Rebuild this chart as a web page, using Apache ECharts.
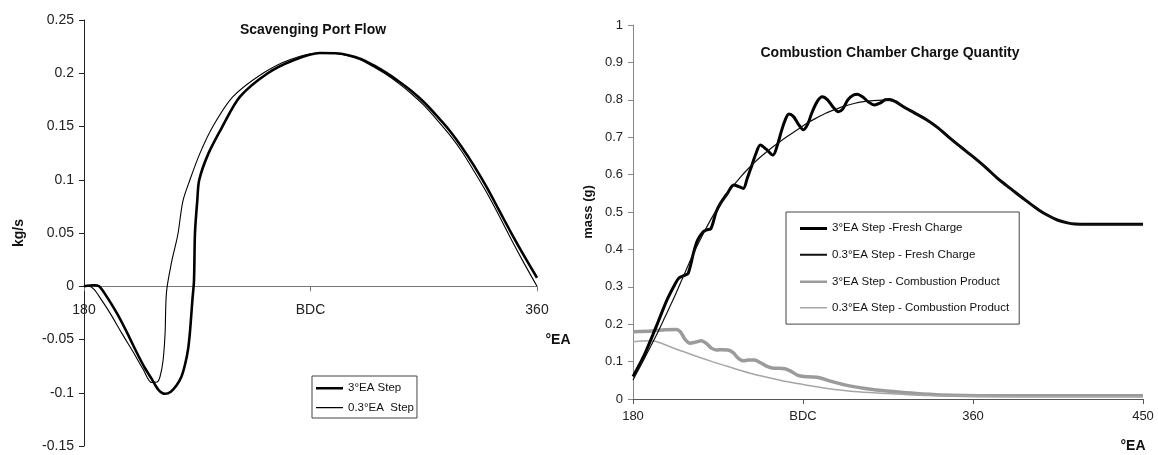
<!DOCTYPE html>
<html>
<head>
<meta charset="utf-8">
<script src="https://cdn.jsdelivr.net/npm/echarts@6/dist/echarts.min.js"></script>
<style>html,body{margin:0;padding:0;background:#fff}#c{width:1158px;height:455px}</style>
</head>
<body>
<div id="c"></div>
<script>
// ---------- Left chart: Scavenging Port Flow (x: °EA, y: kg/s) ----------
const leftXTicks = {180: '180', 270: 'BDC', 360: '360'};
const flow3 = [[180,0],[184,0.001],[186,0],[188,-0.006],[193,-0.025],[197,-0.043],[200.9,-0.062],[204,-0.076],[206.9,-0.087],[209.5,-0.097],[212.2,-0.101],[214.5,-0.099],[216.8,-0.093],[218.7,-0.085],[220.1,-0.074],[221.3,-0.06],[222.1,-0.043],[223.1,-0.012],[223.7,0.005],[224.1,0.05],[225,0.08],[225.8,0.1],[229.5,0.125],[235,0.15],[242,0.178],[253,0.2],[263,0.212],[273.7,0.219],[280,0.2188],[285,0.217],[290,0.2135],[295,0.2075],[300,0.2005],[305,0.1925],[310,0.1835],[315,0.173],[320,0.1605],[325,0.147],[330,0.131],[335,0.113],[340,0.093],[345,0.071],[350,0.049],[355,0.028],[360,0.008]];
const flow03 = [[180,0],[182,0],[184,-0.003],[187,-0.013],[190.3,-0.025],[195,-0.044],[199.6,-0.062],[203.5,-0.078],[206.9,-0.0904],[209,-0.09],[210.2,-0.085],[211.4,-0.07],[212.2,-0.045],[212.8,-0.005],[215,0.025],[216.5,0.04],[217.4,0.05],[219.3,0.08],[222.1,0.1],[226.1,0.125],[231.2,0.15],[239.2,0.178],[251.1,0.2],[262,0.213],[273.7,0.219],[280,0.2185],[285,0.2165],[290,0.2125],[295,0.206],[300,0.199],[305,0.1905],[310,0.181],[315,0.17],[320,0.157],[325,0.143],[330,0.127],[335,0.108],[340,0.088],[345,0.066],[350,0.043],[355,0.021],[360,0]];

// ---------- Right chart: Combustion Chamber Charge Quantity (x: °EA, y: mass g) ----------
const rightXTicks = {180: '180', 270: 'BDC', 360: '360', 450: '450'};
const fresh3 = [[180,0.06],[186,0.118],[192,0.19],[198,0.265],[202,0.305],[204.2,0.323],[207,0.33],[209.2,0.336],[212,0.39],[214.2,0.425],[217.2,0.447],[219,0.452],[221.3,0.456],[224,0.5],[226.3,0.523],[230,0.55],[233.3,0.572],[236,0.568],[238.4,0.563],[240.5,0.59],[242.4,0.617],[245,0.655],[247.4,0.679],[250.5,0.668],[254.1,0.652],[256.5,0.68],[258.5,0.715],[260.5,0.745],[262.5,0.762],[265,0.755],[267.5,0.735],[270.2,0.72],[272.5,0.735],[274.6,0.764],[277.5,0.795],[280.2,0.808],[283,0.8],[286,0.78],[288.7,0.768],[291,0.775],[293.7,0.8],[296.5,0.812],[298.8,0.815],[301.5,0.808],[304.5,0.795],[307.8,0.786],[311,0.792],[313.5,0.8],[315.9,0.801],[319,0.795],[322.9,0.782],[329,0.765],[335,0.748],[341,0.727],[347,0.701],[353,0.676],[360,0.648],[367,0.618],[373,0.59],[378,0.57],[383,0.55],[389,0.527],[395,0.505],[400,0.49],[405,0.478],[410,0.471],[414,0.468],[420,0.467],[450,0.467]];
const fresh03 = [[180,0.051],[186,0.108],[192,0.167],[197,0.22],[202,0.274],[207,0.332],[212,0.389],[217,0.44],[222,0.487],[227,0.527],[232,0.563],[237,0.594],[242,0.621],[247,0.645],[252,0.666],[257,0.685],[262,0.703],[267,0.72],[272,0.737],[277,0.751],[282,0.764],[287,0.774],[292,0.783],[297,0.79],[302,0.795],[307,0.798],[312,0.799],[317,0.797],[322,0.787],[329,0.766],[335,0.748],[341,0.727],[347,0.701],[353,0.676],[360,0.648],[367,0.618],[373,0.59],[378,0.57],[383,0.55],[389,0.527],[395,0.505],[400,0.49],[405,0.478],[410,0.471],[414,0.468],[420,0.467],[450,0.467]];
const comb3 = [[180,0.18],[190,0.182],[197,0.185],[203,0.186],[205,0.18],[207.5,0.16],[210.2,0.149],[213,0.152],[216.2,0.156],[219,0.148],[221.5,0.136],[224.3,0.131],[227,0.132],[230.3,0.131],[233,0.124],[235.5,0.11],[238.4,0.102],[241,0.104],[244.4,0.104],[247.5,0.097],[251,0.087],[254.5,0.082],[257.5,0.082],[260.5,0.081],[264,0.073],[267,0.064],[270.6,0.06],[274.5,0.059],[278.6,0.057],[285,0.047],[292.7,0.037],[302,0.029],[312.9,0.022],[327,0.016],[343,0.011],[370,0.009],[400,0.009],[450,0.009]];
const comb03 = [[180,0.153],[185,0.155],[190,0.156],[196,0.147],[202,0.135],[212,0.117],[222,0.1],[232,0.084],[242,0.069],[252,0.057],[262,0.046],[272,0.037],[282,0.029],[297,0.02],[313,0.015],[328,0.011],[343,0.009],[370,0.007],[400,0.006],[450,0.006]];

const leftNames = ['3°EA Step', '0.3°EA  Step'];
const rightNames = ['3°EA Step -Fresh Charge', '0.3°EA Step - Fresh Charge', '3°EA Step - Combustion Product', '0.3°EA Step - Combustion Product'];

const FONT = '"Liberation Sans", Arial, sans-serif';
const chart = echarts.init(document.getElementById('c'), null, {renderer: 'canvas'});

function line(name, data, xi, color, width, z) {
  return {name, type: 'line', xAxisIndex: xi, yAxisIndex: xi, data, showSymbol: false, symbol: 'none',
    smooth: 0.3, lineStyle: {color, width}, itemStyle: {color}, z: z || 2, animation: false};
}
// legend line icon of a given stroke thickness (box 27 x 12)
function lineIcon(t) {
  const y0 = Math.round(6 - t / 2);
  return 'path://M0,0h0.05v0.05h-0.05z M0,' + y0 + 'h27v' + t + 'h-27z M26.95,11.95h0.05v0.05h-0.05z';
}

chart.setOption({
  backgroundColor: '#fff',
  textStyle: {fontFamily: FONT},
  animation: false,
  title: [
    {text: 'Scavenging Port Flow', left: 308, top: 18, textAlign: 'center',
      textStyle: {fontFamily: FONT, fontSize: 14, fontWeight: 'bold', color: '#111'}},
    {text: 'Combustion Chamber Charge Quantity', left: 885, top: 41, textAlign: 'center',
      textStyle: {fontFamily: FONT, fontSize: 14, fontWeight: 'bold', color: '#111'}},
    {text: '°EA', left: 553, top: 328, textAlign: 'center',
      textStyle: {fontFamily: FONT, fontSize: 14, fontWeight: 'bold', color: '#111'}},
    {text: '°EA', left: 1128, top: 434, textAlign: 'center',
      textStyle: {fontFamily: FONT, fontSize: 14, fontWeight: 'bold', color: '#111'}}
  ],
  legend: [
    {data: [{name: leftNames[0], icon: lineIcon(2.5)}, {name: leftNames[1], icon: lineIcon(1.2)}],
      orient: 'vertical', left: 312, top: 376, padding: [6, 3, 4, 4], itemGap: 8,
      itemWidth: 27, itemHeight: 12, borderColor: '#444', borderWidth: 1, selectedMode: false,
      textStyle: {fontFamily: FONT, fontSize: 11.5, color: '#111'}},
    {data: [{name: rightNames[0], icon: lineIcon(3)}, {name: rightNames[1], icon: lineIcon(2)},
            {name: rightNames[2], icon: lineIcon(2.5)}, {name: rightNames[3], icon: lineIcon(1.5)}],
      orient: 'vertical', left: 786, top: 212, padding: [10, 10, 10, 14], itemGap: 14.7,
      itemWidth: 27, itemHeight: 12, borderColor: '#444', borderWidth: 1, selectedMode: false,
      textStyle: {fontFamily: FONT, fontSize: 11.5, color: '#111'}}
  ],
  grid: [
    {left: 84, right: 621, top: 20, bottom: 9, containLabel: false, outerBoundsMode: 'none'},
    {left: 633, right: 15, top: 25, bottom: 56, containLabel: false, outerBoundsMode: 'none'}
  ],
  xAxis: [
    {gridIndex: 0, type: 'value', min: 180, max: 360, interval: 90, position: 'bottom', offset: -159.75,
      axisLine: {onZero: false, lineStyle: {color: '#777', width: 1}},
      axisTick: {show: true, length: 5, lineStyle: {color: '#777'}},
      splitLine: {show: false},
      axisLabel: {margin: 17, fontSize: 14, color: '#222', fontFamily: FONT, formatter: v => leftXTicks[v] || ''}},
    {gridIndex: 1, type: 'value', min: 180, max: 450, interval: 90,
      axisLine: {onZero: true, lineStyle: {color: '#555', width: 1}},
      axisTick: {show: true, length: 5, lineStyle: {color: '#555'}},
      splitLine: {show: false},
      axisLabel: {margin: 11, fontSize: 13, color: '#222', fontFamily: FONT, formatter: v => rightXTicks[v] || ''}}
  ],
  yAxis: [
    {gridIndex: 0, type: 'value', min: -0.15, max: 0.25, interval: 0.05,
      name: 'kg/s', nameLocation: 'middle', nameRotate: 90, nameGap: 58,
      nameTextStyle: {fontFamily: FONT, fontSize: 14, fontWeight: 'bold', color: '#111'},
      axisLine: {show: true, onZero: false, lineStyle: {color: '#222', width: 1}},
      axisTick: {show: true, length: 5, lineStyle: {color: '#222'}},
      splitLine: {show: false},
      axisLabel: {margin: 10, fontSize: 14, color: '#222', fontFamily: FONT}},
    {gridIndex: 1, type: 'value', min: 0, max: 1, interval: 0.1,
      name: 'mass (g)', nameLocation: 'middle', nameRotate: 90, nameGap: 38,
      nameTextStyle: {fontFamily: FONT, fontSize: 13, fontWeight: 'bold', color: '#111'},
      axisLine: {show: true, onZero: false, lineStyle: {color: '#888', width: 1}},
      axisTick: {show: true, length: 5, lineStyle: {color: '#888'}},
      splitLine: {show: false},
      axisLabel: {margin: 10, fontSize: 13, color: '#222', fontFamily: FONT}}
  ],
  series: [
    line(leftNames[0], flow3, 0, '#000', 2.6, 3),
    line(leftNames[1], flow03, 0, '#000', 1.1, 4),
    line(rightNames[0], fresh3, 1, '#000', 3, 3),
    line(rightNames[1], fresh03, 1, '#111', 1.2, 4),
    line(rightNames[2], comb3, 1, '#9b9b9b', 3.5, 2),
    line(rightNames[3], comb03, 1, '#a6a6a6', 1.5, 2)
  ]
});
</script>
</body>
</html>
